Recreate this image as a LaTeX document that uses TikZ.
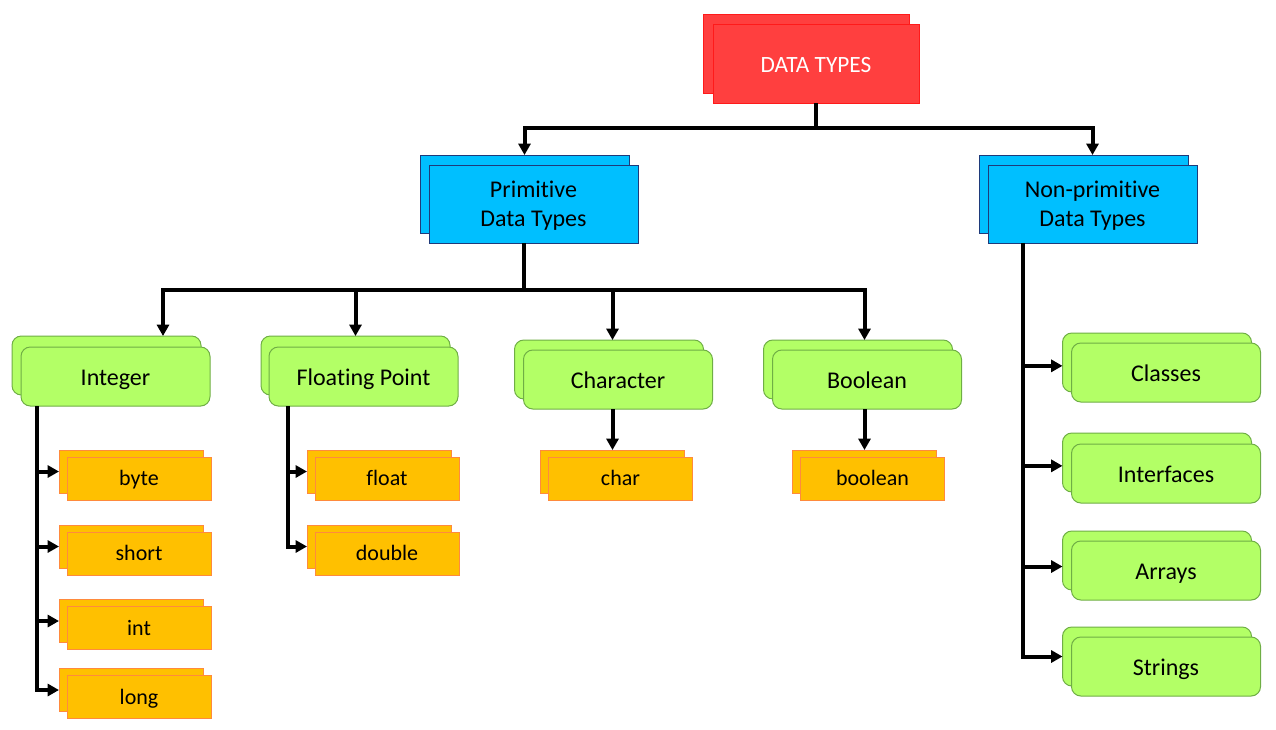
\documentclass[tikz,border=0pt]{standalone}
\usepackage{fontspec}
\setmainfont{Carlito}[Ligatures=NoCommon]
\usetikzlibrary{arrows.meta}
\definecolor{redF}{HTML}{FF3F3F}
\definecolor{redD}{HTML}{FF1A1A}
\definecolor{bluF}{HTML}{00BFFF}
\definecolor{bluD}{HTML}{1F3A7A}
\definecolor{grnF}{HTML}{B3FF66}
\definecolor{grnD}{HTML}{6FAE45}
\definecolor{orgF}{HTML}{FFC000}
\definecolor{orgD}{HTML}{FF8A3D}
\newcommand\twobox[7]{%
  \node[#6] (#1-b) at ({#2+#4},{#3+#5}) {};
  \node[#6] (#1) at (#2,#3) {#7};}
\begin{document}
\begin{tikzpicture}[x=0.75pt,y=-0.75pt,
  base/.style={line width=0.75pt, inner sep=0pt, outer sep=0pt},
  redbox/.style={base, draw=redD, fill=redF, text=white,
    font=\fontsize{17.5}{21}\selectfont, text height=16pt, text depth=2.2pt,
    minimum width=206*0.75pt, minimum height=79*0.75pt},
  bluebox/.style={base, draw=bluD, fill=bluF, align=center,
    font=\fontsize{18}{21.75}\selectfont,
    minimum width=209*0.75pt, minimum height=78*0.75pt},
  greenbox/.style={base, draw=grnD, fill=grnF, rounded corners=7pt,
    font=\fontsize{18}{21.75}\selectfont, text height=16pt, text depth=2.8pt,
    minimum width=189*0.75pt, minimum height=59*0.75pt},
  orangebox/.style={base, draw=orgD, fill=orgF,
    font=\fontsize{16.5}{20}\selectfont, text height=14pt, text depth=3.2pt,
    minimum width=144*0.75pt, minimum height=43*0.75pt},
  line/.style={line width=3pt, black, line join=miter},
  arr/.style={line, -{Triangle[length=8.5pt,width=9pt]}}
]
\useasboundingbox (0,0) rectangle (1276,729);
% top
\twobox{dt}{816}{63.5}{-10}{-10}{redbox}{DATA TYPES}
\twobox{prim}{533.5}{204}{-9}{-10}{bluebox}{\rule{0pt}{15.5pt}Primitive\\Data Types}
\twobox{np}{1092.5}{204}{-9}{-10}{bluebox}{\rule{0pt}{15.5pt}Non-primitive\\Data Types}
% green
\twobox{integer}{115.5}{376.5}{-9}{-11}{greenbox}{Integer}
\twobox{fp}{363.5}{376.5}{-8}{-11}{greenbox}{Floating Point}
\twobox{chr}{618}{379.5}{-9}{-10}{greenbox}{Character}
\twobox{bool}{867}{379.5}{-9}{-10}{greenbox}{Boolean}
\twobox{cls}{1166}{372.5}{-9}{-10}{greenbox}{Classes}
\twobox{ifc}{1166}{473.5}{-9}{-11}{greenbox}{Interfaces}
\twobox{arrs}{1166}{570.5}{-9}{-10}{greenbox}{Arrays}
\twobox{str}{1166}{666.5}{-9}{-10}{greenbox}{Strings}
% orange
\twobox{byte}{139}{478.5}{-8}{-7}{orangebox}{byte}
\twobox{short}{139}{553.5}{-8}{-7}{orangebox}{short}
\twobox{intv}{139}{628}{-8}{-7}{orangebox}{int}
\twobox{long}{139}{697}{-8}{-7}{orangebox}{long}
\twobox{float}{387}{478.5}{-8}{-7}{orangebox}{float}
\twobox{double}{387}{553.5}{-8}{-7}{orangebox}{double}
\twobox{charv}{620.5}{478.5}{-8}{-7}{orangebox}{char}
\twobox{boolv}{872.5}{478.5}{-8}{-7}{orangebox}{boolean}
% connectors: level 1
\coordinate (j1) at (815,128);
\draw[line] (dt.south) -- (dt.south |- j1);
\draw[arr] (j1) -| (prim-b.north);
\draw[arr] (j1) -| (np.north |- np-b.north);
% level 2 (primitive)
\coordinate (j2) at (524,290);
\coordinate (xint) at (163,0);
\draw[line] (j2 |- prim.south) -- (j2);
\draw[arr] (j2) -| (xint |- integer-b.north);
\draw[arr] (j2) -| (fp-b.north);
\draw[arr] (j2) -| (charv-b.north |- chr-b.north);
\draw[arr] (j2) -| (boolv-b.north |- bool-b.north);
\draw[arr] (charv-b.north |- chr.south) -- (charv-b.north);
\draw[arr] (boolv-b.north |- bool.south) -- (boolv-b.north);
% integer subtypes
\coordinate (vi) at (37,0);
\draw[arr] (vi |- integer.south) |- (long-b.west);
\draw[arr] (vi |- byte-b.west) -- (byte-b.west);
\draw[arr] (vi |- short-b.west) -- (short-b.west);
\draw[arr] (vi |- intv-b.west) -- (intv-b.west);
% floating subtypes
\coordinate (vf) at (288,0);
\draw[arr] (vf |- fp.south) |- (double-b.west);
\draw[arr] (vf |- float-b.west) -- (float-b.west);
% non-primitive
\coordinate (vn) at (1023,0);
\coordinate (clsT) at ([yshift=-2.5pt]cls-b.west);
\coordinate (ifcT) at ([yshift=-2.5pt]ifc-b.west);
\coordinate (arrsT) at ([yshift=-4.5pt]arrs-b.west);
\draw[arr] (vn |- np.south) |- (str-b.west);
\draw[arr] (vn |- clsT) -- (clsT);
\draw[arr] (vn |- ifcT) -- (ifcT);
\draw[arr] (vn |- arrsT) -- (arrsT);
\end{tikzpicture}
\end{document}
